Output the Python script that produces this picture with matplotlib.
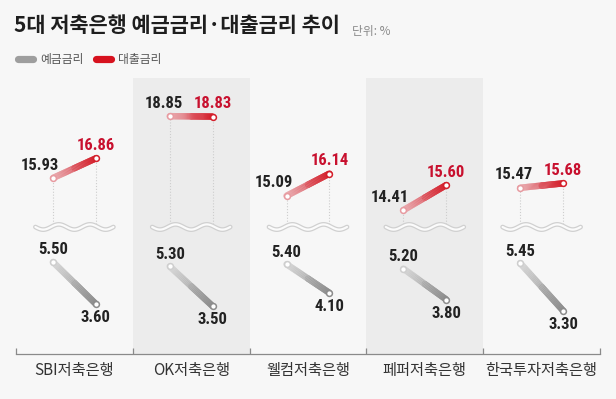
import numpy as np
import matplotlib
matplotlib.use("Agg")
import matplotlib.pyplot as plt
from matplotlib import font_manager as fm
from matplotlib.collections import LineCollection
from matplotlib.colors import LinearSegmentedColormap
from matplotlib.lines import Line2D

# --- data ---
banks = ["SBI저축은행", "OK저축은행", "웰컴저축은행", "페퍼저축은행", "한국투자저축은행"]
loan_from = [15.93, 18.85, 15.09, 14.41, 15.47]
loan_to = [16.86, 18.83, 16.14, 15.60, 15.68]
dep_from = [5.50, 5.30, 5.40, 5.20, 5.45]
dep_to = [3.60, 3.50, 4.10, 3.80, 3.30]
shaded = [1, 3]

W, H = 616, 399
KR = ["Noto Sans CJK KR", "DejaVu Sans"]
installed = {f.name for f in fm.fontManager.ttflist}
NUM = next((n for n in ["Roboto Condensed", "Liberation Sans Narrow", "Arial Narrow"]
            if n in installed), None)
num_kw = (dict(family=NUM, fontsize=12) if NUM
          else dict(family="DejaVu Sans", fontstretch="condensed", fontsize=9.5))

BG = "#f7f7f7"
RED_TXT = "#c8102e"
DARK = "#222222"
red_cm = LinearSegmentedColormap.from_list("r", ["#eab0b4", "#d41f2b"])
gray_cm = LinearSegmentedColormap.from_list("g", ["#dadada", "#8c8c8c"])


def fx(px):
    return px / W


def fy(py):
    return 1 - py / H


fig = plt.figure(figsize=(W / 100, H / 100), dpi=100, facecolor=BG)

rect_all = [fx(16), fy(354), 584 / W, (354 - 78) / H]
bg = fig.add_axes(rect_all)
bg.set_facecolor(BG)
bg.set_xlim(-0.5, 4.5)
bg.set_ylim(0, 276)
for i in shaded:
    bg.axvspan(i - 0.5, i + 0.5, color="#ececec", lw=0)
for s in ["top", "left", "right"]:
    bg.spines[s].set_visible(False)
bg.spines["bottom"].set_color("#8a8a8a")
bg.spines["bottom"].set_linewidth(0.9)
bg.set_yticks([])
bg.set_xticks(range(len(banks)))
bg.set_xticklabels(banks, family=KR, fontsize=11, color="#333333")
bg.tick_params(axis="x", which="major", length=0, pad=5.5)
bg.set_xticks(np.arange(-0.5, len(banks), 1.0), minor=True)
bg.tick_params(axis="x", which="minor", direction="in", length=4, color="#8a8a8a", width=0.9)

top = fig.add_axes([fx(16), fy(227), 584 / W, (227 - 78) / H])
top.set_xlim(-0.5, 4.5)
top.set_ylim(13.62, 20.65)
top.axis("off")
bot = fig.add_axes([fx(16), fy(354), 584 / W, (354 - 227) / H])
bot.set_xlim(-0.5, 4.5)
bot.set_ylim(1.34, 7.08)
bot.axis("off")
for a in (top, bot):
    a.patch.set_alpha(0)

DX = 0.184


def grad_line(ax, x0, y0, x1, y1, cmap):
    n = 40
    t = np.linspace(0, 1, n + 1)
    xs = x0 + t * (x1 - x0)
    ys = y0 + t * (y1 - y0)
    segs = np.stack([np.column_stack([xs[:-1], ys[:-1]]),
                     np.column_stack([xs[1:], ys[1:]])], axis=1)
    xm, ym = (x0 + x1) / 2, (y0 + y1) / 2
    ax.plot([x0, xm], [y0, ym], color=cmap(0.0), lw=4.6, solid_capstyle="round", zorder=3)
    ax.plot([xm, x1], [ym, y1], color=cmap(1.0), lw=4.6, solid_capstyle="round", zorder=3)
    lc = LineCollection(segs, colors=cmap(t[:-1] + 0.5 / n), linewidths=4.6,
                        capstyle="butt", zorder=4)
    ax.add_collection(lc)
    ax.plot([x0], [y0], "o", ms=4.2, mfc="white", mec=cmap(0.15), mew=1.1, zorder=5)
    ax.plot([x1], [y1], "o", ms=4.2, mfc="white", mec=cmap(1.0), mew=1.1, zorder=5)


PT = 72 / 100  # points per pixel

for i in range(len(banks)):
    xl, xr = i - DX, i + DX
    # loan rates (top panel)
    a, b = loan_from[i], loan_to[i]
    for x, v in ((xl, a), (xr, b)):
        top.plot([x, x], [13.62, v], color="#cdcdcd", lw=0.8, ls=(0, (1, 1.6)), zorder=2)
    grad_line(top, xl, a, xr, b, red_cm)
    off = -6 if abs(b - a) < 0.5 else -13
    top.annotate(f"{a:.2f}", (xl, a), xytext=(off * PT, 13 * PT), textcoords="offset points",
                 ha="center", va="center", color=DARK, weight="bold", **num_kw)
    top.annotate(f"{b:.2f}", (xr, b), xytext=(0, 13 * PT), textcoords="offset points",
                 ha="center", va="center", color=RED_TXT, weight="bold", **num_kw)
    # deposit rates (bottom panel)
    c, d = dep_from[i], dep_to[i]
    grad_line(bot, xl, c, xr, d, gray_cm)
    bot.annotate(f"{c:.2f}", (xl, c), xytext=(0, 12 * PT), textcoords="offset points",
                 ha="center", va="center", color=DARK, weight="bold", **num_kw)
    bot.annotate(f"{d:.2f}", (xr, d), xytext=(0, -13.5 * PT), textcoords="offset points",
                 ha="center", va="center", color=DARK, weight="bold", **num_kw)

# axis-break waves
ov = fig.add_axes(rect_all)
ov.set_xlim(-0.5, 4.5)
ov.set_ylim(0, 276)
ov.axis("off")
ov.patch.set_alpha(0)
tw = np.linspace(0, 1, 120)
for i in range(len(banks)):
    wx = i - 0.334 + tw * 0.668
    wy = 127 + 2.6 * np.sin(2 * np.pi * 2.5 * tw + np.pi)
    ov.plot(wx, wy, color="#d0d0d0", lw=3.4, solid_capstyle="round", zorder=6)
    ov.plot(wx, wy, color="#fbfbfb", lw=1.6, solid_capstyle="round", zorder=7)

# title, unit, legend
fig.text(fx(14), fy(25), "5대 저축은행 예금금리·대출금리 추이", family=KR, fontsize=15,
         weight="bold", color="#1e1e1e", va="center", ha="left")
fig.text(fx(352), fy(31), "단위: %", family=KR, fontsize=8.5, color="#8a8a8a",
         va="center", ha="left")
fig.add_artist(Line2D([fx(18), fx(33)], [fy(59), fy(59)], lw=5.2, color="#9e9e9e",
                      solid_capstyle="round"))
fig.text(fx(40), fy(59), "예금금리", family=KR, fontsize=8.5, color="#555555",
         va="center", ha="left")
fig.add_artist(Line2D([fx(96), fx(111)], [fy(59), fy(59)], lw=5.2, color="#d7121e",
                      solid_capstyle="round"))
fig.text(fx(118), fy(59), "대출금리", family=KR, fontsize=8.5, color="#555555",
         va="center", ha="left")

fig.savefig("out.png", dpi=100, facecolor=BG)
